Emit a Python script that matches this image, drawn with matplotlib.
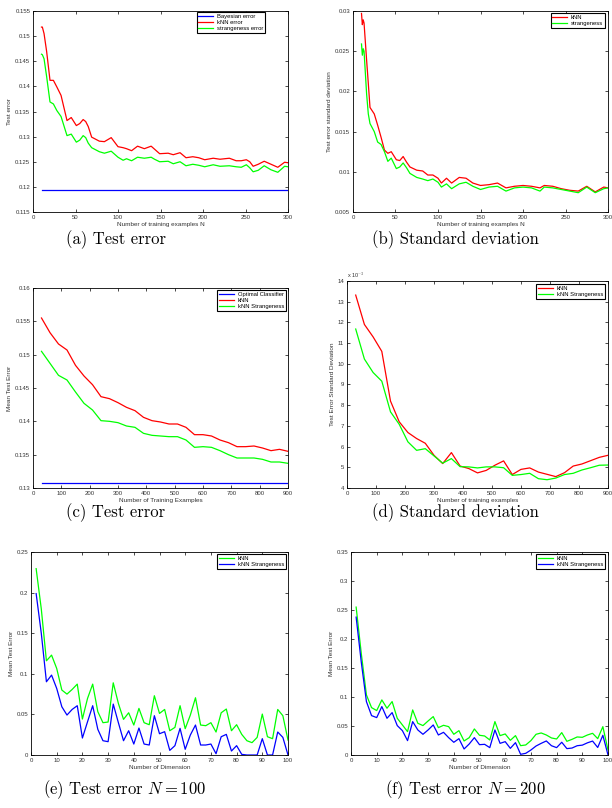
import matplotlib
matplotlib.use("Agg")
import matplotlib.pyplot as plt

plt.rcParams['mathtext.fontset'] = 'cm'
plt.rcParams['font.family'] = ['Liberation Sans', 'DejaVu Sans']

# ---------------- (a) Test error ----------------
a_N = [10, 11, 13, 16, 20, 24, 28, 33, 40, 45, 51, 55, 59, 62, 65, 69, 78, 84, 92, 100,
       106, 110, 116, 123, 131, 139, 143, 149, 159, 165, 173, 180, 188, 195, 202, 212, 220,
       231, 239, 245, 251, 255, 259, 265, 272, 280, 288, 296, 300]
a_knn = [0.1518, 0.1518, 0.1505, 0.1470, 0.1412, 0.1412, 0.1399, 0.1382, 0.1332, 0.1338,
         0.1322, 0.1326, 0.1334, 0.1330, 0.1320, 0.1299, 0.1291, 0.1290, 0.1298, 0.1280,
         0.1278, 0.1276, 0.1272, 0.1281, 0.1276, 0.1281, 0.1275, 0.1266, 0.1267, 0.1264,
         0.1268, 0.1258, 0.1260, 0.1258, 0.1254, 0.1257, 0.1255, 0.1257, 0.1252, 0.1252,
         0.1254, 0.1250, 0.1241, 0.1245, 0.1251, 0.1245, 0.1239, 0.1249, 0.1248]
a_str = [0.1464, 0.1463, 0.1455, 0.1420, 0.1369, 0.1365, 0.1352, 0.1340, 0.1302, 0.1305,
         0.1289, 0.1293, 0.1302, 0.1298, 0.1287, 0.1278, 0.1270, 0.1267, 0.1271, 0.1259,
         0.1253, 0.1256, 0.1252, 0.1259, 0.1257, 0.1259, 0.1255, 0.1250, 0.1251, 0.1246,
         0.1250, 0.1242, 0.1245, 0.1243, 0.1240, 0.1244, 0.1241, 0.1242, 0.1240, 0.1239,
         0.1244, 0.1238, 0.1230, 0.1233, 0.1242, 0.1234, 0.1229, 0.1241, 0.1240]
a_bayes = [0.1193, 0.1193]
a_bayes_N = [10, 300]

# ---------------- (b) Standard deviation ----------------
b_N = [10, 11, 12, 13, 16, 18, 20, 25, 29, 33, 37, 41, 45, 51, 55, 59, 63, 67, 75, 82,
       88, 94, 100, 104, 110, 116, 125, 133, 141, 150, 160, 170, 180, 190, 200, 210, 220,
       225, 235, 245, 255, 265, 275, 285, 295, 300]
b_knn = [0.0297, 0.0283, 0.0289, 0.0285, 0.0239, 0.0210, 0.0180, 0.0172, 0.0158, 0.0143,
         0.0127, 0.0123, 0.0125, 0.0115, 0.0114, 0.0119, 0.0112, 0.0106, 0.0102, 0.0101,
         0.0096, 0.0096, 0.0092, 0.0086, 0.0092, 0.0086, 0.0093, 0.0092, 0.0086, 0.0083,
         0.0084, 0.0086, 0.0080, 0.0082, 0.0083, 0.0082, 0.0080, 0.0083, 0.0082, 0.0079,
         0.0077, 0.0076, 0.0082, 0.0075, 0.0081, 0.0080]
b_str = [0.0259, 0.0245, 0.0253, 0.0250, 0.0197, 0.0172, 0.0160, 0.0150, 0.0137, 0.0134,
         0.0125, 0.0113, 0.0117, 0.0104, 0.0106, 0.0111, 0.0105, 0.0098, 0.0093, 0.0091,
         0.0089, 0.0091, 0.0087, 0.0081, 0.0085, 0.0079, 0.0085, 0.0087, 0.0082, 0.0078,
         0.0081, 0.0082, 0.0076, 0.0080, 0.0081, 0.0080, 0.0076, 0.0081, 0.0080, 0.0078,
         0.0076, 0.0074, 0.0081, 0.0074, 0.0079, 0.0080]

# ---------------- (c) Test error ----------------
c_N = [30, 60, 90, 120, 150, 180, 210, 240, 270, 300, 330, 360, 390, 420, 450, 480, 510,
       540, 570, 600, 630, 660, 690, 720, 750, 780, 810, 840, 870, 900]
c_knn = [0.1555, 0.1533, 0.1516, 0.1507, 0.1484, 0.1468, 0.1455, 0.1437, 0.1434, 0.1428,
         0.1421, 0.1416, 0.1406, 0.1401, 0.1399, 0.1396, 0.1396, 0.1391, 0.1380, 0.1380,
         0.1378, 0.1372, 0.1368, 0.1362, 0.1362, 0.1363, 0.1360, 0.1356, 0.1358, 0.1355]
c_str = [0.1505, 0.1487, 0.1469, 0.1462, 0.1444, 0.1427, 0.1417, 0.1401, 0.1400, 0.1398,
         0.1393, 0.1391, 0.1382, 0.1379, 0.1378, 0.1377, 0.1377, 0.1372, 0.1361, 0.1362,
         0.1361, 0.1356, 0.1350, 0.1345, 0.1345, 0.1345, 0.1343, 0.1339, 0.1339, 0.1337]
c_opt = [0.13075, 0.13075]
c_opt_N = [30, 900]

# ---------------- (d) Standard deviation (x 1e-3) ----------------
d_N = c_N
d_knn = [13.32, 11.90, 11.30, 10.60, 8.20, 7.20, 6.68, 6.39, 6.16, 5.58, 5.18, 5.71, 5.06,
         4.94, 4.73, 4.85, 5.10, 5.31, 4.65, 4.90, 4.97, 4.77, 4.66, 4.55, 4.74, 5.06, 5.16,
         5.32, 5.48, 5.58]
d_str = [11.68, 10.23, 9.58, 9.16, 7.68, 7.08, 6.23, 5.82, 5.90, 5.55, 5.20, 5.42, 5.03,
         5.02, 4.97, 5.02, 5.02, 4.98, 4.61, 4.65, 4.71, 4.45, 4.40, 4.48, 4.65, 4.71, 4.87,
         4.98, 5.10, 5.11]

# ---------------- (e) N = 100 ----------------
dims = list(range(2, 101, 2))
e_knn = [0.2295, 0.180, 0.116, 0.123, 0.1066, 0.080, 0.075, 0.0807, 0.0873, 0.0443,
         0.0697, 0.0873, 0.0533, 0.0398, 0.0406, 0.0889, 0.0635, 0.0439, 0.052, 0.0369,
         0.0574, 0.0398, 0.0373, 0.073, 0.0512, 0.0561, 0.0299, 0.034, 0.0607, 0.0324,
         0.0492, 0.0705, 0.0369, 0.0361, 0.0398, 0.0283, 0.052, 0.0566, 0.0299, 0.0373,
         0.0254, 0.0176, 0.0152, 0.0217, 0.0504, 0.0225, 0.0201, 0.0561, 0.0484, 0.0184]
e_str = [0.1988, 0.150, 0.0902, 0.0984, 0.082, 0.0594, 0.0492, 0.0561, 0.0607, 0.0209,
         0.041, 0.0607, 0.0316, 0.0176, 0.0164, 0.0627, 0.0398, 0.0176, 0.0299, 0.0135,
         0.0332, 0.0135, 0.0123, 0.0484, 0.0262, 0.0287, 0.0057, 0.0115, 0.0328, 0.007,
         0.0246, 0.0369, 0.0123, 0.0123, 0.0135, 0.0016, 0.0225, 0.0254, 0.0049, 0.0115,
         0.0008, 0.0, 0.0, 0.0, 0.0201, 0.0, 0.0, 0.0283, 0.0217, 0.0]

# ---------------- (f) N = 200 ----------------
f_knn = [0.255, 0.175, 0.1036, 0.0817, 0.0766, 0.095, 0.0806, 0.0921, 0.0633, 0.0518,
         0.0403, 0.0777, 0.0547, 0.0507, 0.0587, 0.0662, 0.0472, 0.0512, 0.0489, 0.0357,
         0.042, 0.0242, 0.0299, 0.0449, 0.034, 0.0328, 0.0259, 0.0576, 0.0334, 0.0363,
         0.0253, 0.0334, 0.0161, 0.0173, 0.0248, 0.0357, 0.038, 0.0345, 0.0294, 0.0276,
         0.0386, 0.0236, 0.027, 0.0311, 0.0305, 0.0345, 0.0374, 0.0282, 0.0489, 0.0086]
f_str = [0.2377, 0.160, 0.0921, 0.0679, 0.0645, 0.0835, 0.0633, 0.0731, 0.0507, 0.042,
         0.0248, 0.0576, 0.0432, 0.0357, 0.0432, 0.0518, 0.0345, 0.0391, 0.0299, 0.0219,
         0.0282, 0.0104, 0.019, 0.0299, 0.0178, 0.0184, 0.0127, 0.0432, 0.0201, 0.023,
         0.0115, 0.0213, 0.0012, 0.0029, 0.0086, 0.0155, 0.0201, 0.0242, 0.016, 0.0127,
         0.022, 0.011, 0.012, 0.016, 0.017, 0.021, 0.024, 0.013, 0.034, 0.0]

captions = ["(a) Test error", "(b) Standard deviation", "(c) Test error",
            "(d) Standard deviation", "(e) Test error $N = 100$", "(f) Test error $N = 200$"]

W, H = 612, 808
fig = plt.figure(figsize=(W / 100, H / 100), dpi=100)


def make_ax(l, r, t, b):
    return fig.add_axes([l / W, 1 - b / H, (r - l) / W, (b - t) / H])


TICK_FS = 4.3
LAB_FS = 4.6
RED, GREEN, BLUE = (1, 0, 0), (0, 1, 0), (0, 0, 1)
LW = 0.9


def style(ax, xlim, ylim, xticks, yticks, xlabel, ylabel, yfmt=None):
    ax.set_xlim(*xlim)
    ax.set_ylim(*ylim)
    ax.set_xticks(xticks)
    ax.set_yticks(yticks)
    if yfmt is not None:
        ax.set_yticklabels([yfmt(v) for v in yticks])
    ax.tick_params(direction='in', top=True, right=True, length=2.5, width=0.5,
                   labelsize=TICK_FS, pad=2, colors='black', labelcolor='#333333')
    for s in ax.spines.values():
        s.set_linewidth(0.6)
    ax.set_xlabel(xlabel, fontsize=LAB_FS, labelpad=1.5, color='#333333')
    ax.set_ylabel(ylabel, fontsize=LAB_FS, labelpad=2, color='#333333')


def leg(ax, anchor):
    lg = ax.legend(loc='upper right', bbox_to_anchor=anchor, fontsize=4.2,
                   frameon=True, fancybox=False, framealpha=1, edgecolor='black',
                   borderpad=0.3, labelspacing=0.15, handlelength=2.6, handletextpad=0.6,
                   borderaxespad=0)
    lg.get_frame().set_linewidth(0.8)


def gfmt(v):
    s = ('%.3f' % v).rstrip('0').rstrip('.')
    return s


# (a)
ax = make_ax(33, 288, 11, 212)
ax.plot(a_bayes_N, a_bayes, color=BLUE, lw=LW, label='Bayesian error')
ax.plot(a_N, a_knn, color=RED, lw=LW, label='kNN error')
ax.plot(a_N, a_str, color=GREEN, lw=LW, label='strangeness error')
style(ax, (0, 300), (0.115, 0.155), range(0, 301, 50),
      [0.115, 0.12, 0.125, 0.13, 0.135, 0.14, 0.145, 0.15, 0.155],
      'Number of training examples N', 'Test error', gfmt)
leg(ax, (0.91, 0.995))

# (b)
ax = make_ax(353, 608, 11, 212)
ax.plot(b_N, b_knn, color=RED, lw=LW, label='kNN')
ax.plot(b_N, b_str, color=GREEN, lw=LW, label='strangeness')
style(ax, (0, 300), (0.005, 0.03), range(0, 301, 50),
      [0.005, 0.01, 0.015, 0.02, 0.025, 0.03],
      'Number of training examples N', 'Test error standard deviation', gfmt)
leg(ax, (0.988, 0.99))

# (c)
ax = make_ax(33, 288, 288, 488)
ax.plot(c_opt_N, c_opt, color=BLUE, lw=LW, label='Optimal Classifier')
ax.plot(c_N, c_knn, color=RED, lw=LW, label='kNN')
ax.plot(c_N, c_str, color=GREEN, lw=LW, label='kNN Strangeness')
style(ax, (0, 900), (0.13, 0.16), range(0, 901, 100),
      [0.13, 0.135, 0.14, 0.145, 0.15, 0.155, 0.16],
      'Number of Training Examples', 'Mean Test Error', gfmt)
leg(ax, (0.992, 0.99))

# (d)
ax = make_ax(347, 608, 281, 488)
ax.plot(d_N, d_knn, color=RED, lw=LW, label='kNN')
ax.plot(d_N, d_str, color=GREEN, lw=LW, label='kNN Strangeness')
style(ax, (0, 900), (4, 14), range(0, 901, 100), range(4, 15),
      'Number of training examples', 'Test Error Standard Deviation')
ax.text(0.0, 1.004, r'x 10$^{-3}$', transform=ax.transAxes, fontsize=4.0,
        ha='left', va='bottom', color='#333333')
leg(ax, (0.988, 0.985))

# (e)
ax = make_ax(31, 288, 552, 755)
ax.plot(dims, e_knn, color=GREEN, lw=LW, label='kNN')
ax.plot(dims, e_str, color=BLUE, lw=LW, label='kNN Strangeness')
style(ax, (0, 100), (0, 0.25), range(0, 101, 10),
      [0, 0.05, 0.1, 0.15, 0.2, 0.25],
      'Number of Dimension', 'Mean Test Error', gfmt)
leg(ax, (0.992, 0.99))

# (f)
ax = make_ax(351, 608, 552, 755)
ax.plot(dims, f_knn, color=GREEN, lw=LW, label='kNN')
ax.plot(dims, f_str, color=BLUE, lw=LW, label='kNN Strangeness')
style(ax, (0, 100), (0, 0.35), range(0, 101, 10),
      [0, 0.05, 0.1, 0.15, 0.2, 0.25, 0.3, 0.35],
      'Number of Dimension', 'Mean Test Error', gfmt)
leg(ax, (0.988, 0.99))

# captions
cap_pos = [(116, 240), (455, 240), (116, 513), (455, 513), (125, 790), (465, 790)]
for (cx, cy), txt in zip(cap_pos, captions):
    fig.text(cx / W, 1 - cy / H, txt, ha='center', va='center', fontsize=12,
             family=['cmr10', 'DejaVu Serif'])

fig.savefig('out.png', dpi=100)
